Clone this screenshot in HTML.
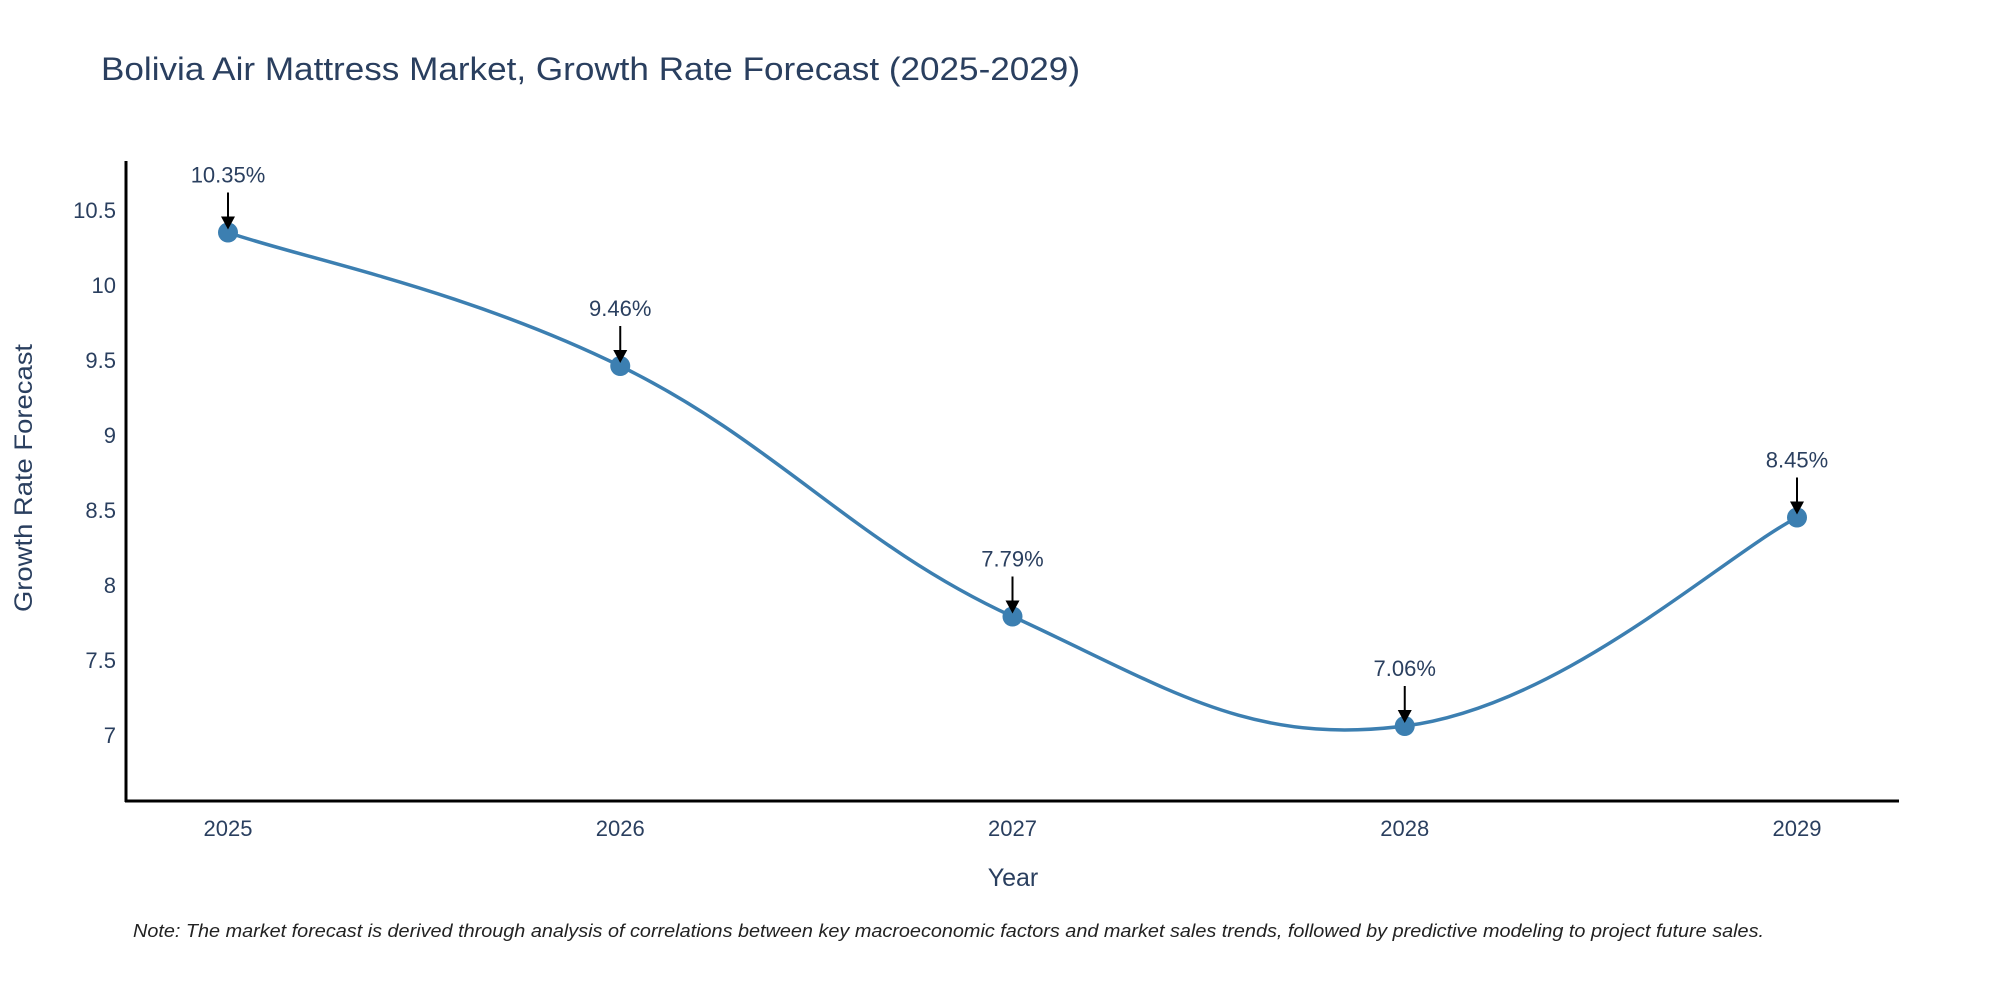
<!DOCTYPE html>
<html><head><meta charset="utf-8"><style>
body{margin:0;background:#fff;}
svg text{font-family:"Liberation Sans",sans-serif;}
</style></head><body>
<svg width="2000" height="1000" xmlns="http://www.w3.org/2000/svg">
<text x="101" y="80" font-size="32" fill="#2a3f5f" textLength="979" lengthAdjust="spacingAndGlyphs">Bolivia Air Mattress Market, Growth Rate Forecast (2025-2029)</text>
<g id="yticks"></g><g id="xticks"></g>
<path id="line" fill="none" stroke="#3c7fb1" stroke-width="3.5"></path>
<g id="marks"></g>
<line x1="126" y1="161" x2="126" y2="802" stroke="#000" stroke-width="3"/>
<line x1="125" y1="801" x2="1899" y2="801" stroke="#000" stroke-width="3"/>
<text transform="translate(32,478) rotate(-90)" text-anchor="middle" font-size="25" fill="#2a3f5f" textLength="268" lengthAdjust="spacingAndGlyphs">Growth Rate Forecast</text>
<text x="1013" y="886" text-anchor="middle" font-size="25" fill="#2a3f5f">Year</text>
<text x="133" y="937" font-size="18" font-style="italic" fill="#222" textLength="1631" lengthAdjust="spacingAndGlyphs">Note: The market forecast is derived through analysis of correlations between key macroeconomic factors and market sales trends, followed by predictive modeling to project future sales.</text>
</svg>
<script>
const years=[2025,2026,2027,2028,2029];
const values=[10.35,9.46,7.79,7.06,8.45];
const labels=["10.35%","9.46%","7.79%","7.06%","8.45%"];
const yTicks=[7,7.5,8,8.5,9,9.5,10,10.5];
const NS="http://www.w3.org/2000/svg";
function X(v){return 228+(v-2025)*392.25;}
function Y(v){return 735-(v-7)*150;}
function mk(t,a,p){const e=document.createElementNS(NS,t);for(const k in a)e.setAttribute(k,a[k]);p.appendChild(e);return e;}
const yt=document.getElementById('yticks');
yTicks.forEach(v=>{const t=mk('text',{x:116,y:Y(v)+8,'text-anchor':'end','font-size':22,fill:'#2a3f5f'},yt);


t.textContent=String(v);});
const xt=document.getElementById('xticks');
years.forEach(v=>{const t=mk('text',{x:X(v),y:836,'text-anchor':'middle','font-size':22,fill:'#2a3f5f'},xt);


t.textContent=String(v);});
const pts=years.map((y,i)=>[X(y),Y(values[i])]);
let d='M'+pts[0][0]+','+pts[0][1];const s=0.2;
for(let i=0;i<pts.length-1;i++){const p0=pts[i-1]||pts[i],p1=pts[i],p2=pts[i+1],p3=pts[i+2]||p2;
const c1=[p1[0]+(p2[0]-p0[0])*s,p1[1]+(p2[1]-p0[1])*s],c2=[p2[0]-(p3[0]-p1[0])*s,p2[1]-(p3[1]-p1[1])*s];
d+=' C'+c1+' '+c2+' '+p2;}
document.getElementById('line').setAttribute('d',d);
const mg=document.getElementById('marks');
pts.forEach((p,i)=>{const c=mk('circle',{cx:p[0],cy:p[1],r:10,fill:'#3c7fb1'},mg);


const l=mk('line',{x1:p[0],y1:p[1]-40,x2:p[0],y2:p[1]-14,stroke:'#000','stroke-width':2},mg);


const h=mk('polygon',{points:`${p[0]-7},${p[1]-16} ${p[0]+7},${p[1]-16} ${p[0]},${p[1]-3}`,fill:'#000'},mg);


const t=mk('text',{x:p[0],y:p[1]-50,'text-anchor':'middle','font-size':22,fill:'#2a3f5f'},mg);


t.textContent=labels[i];});
</script>
</body></html>
